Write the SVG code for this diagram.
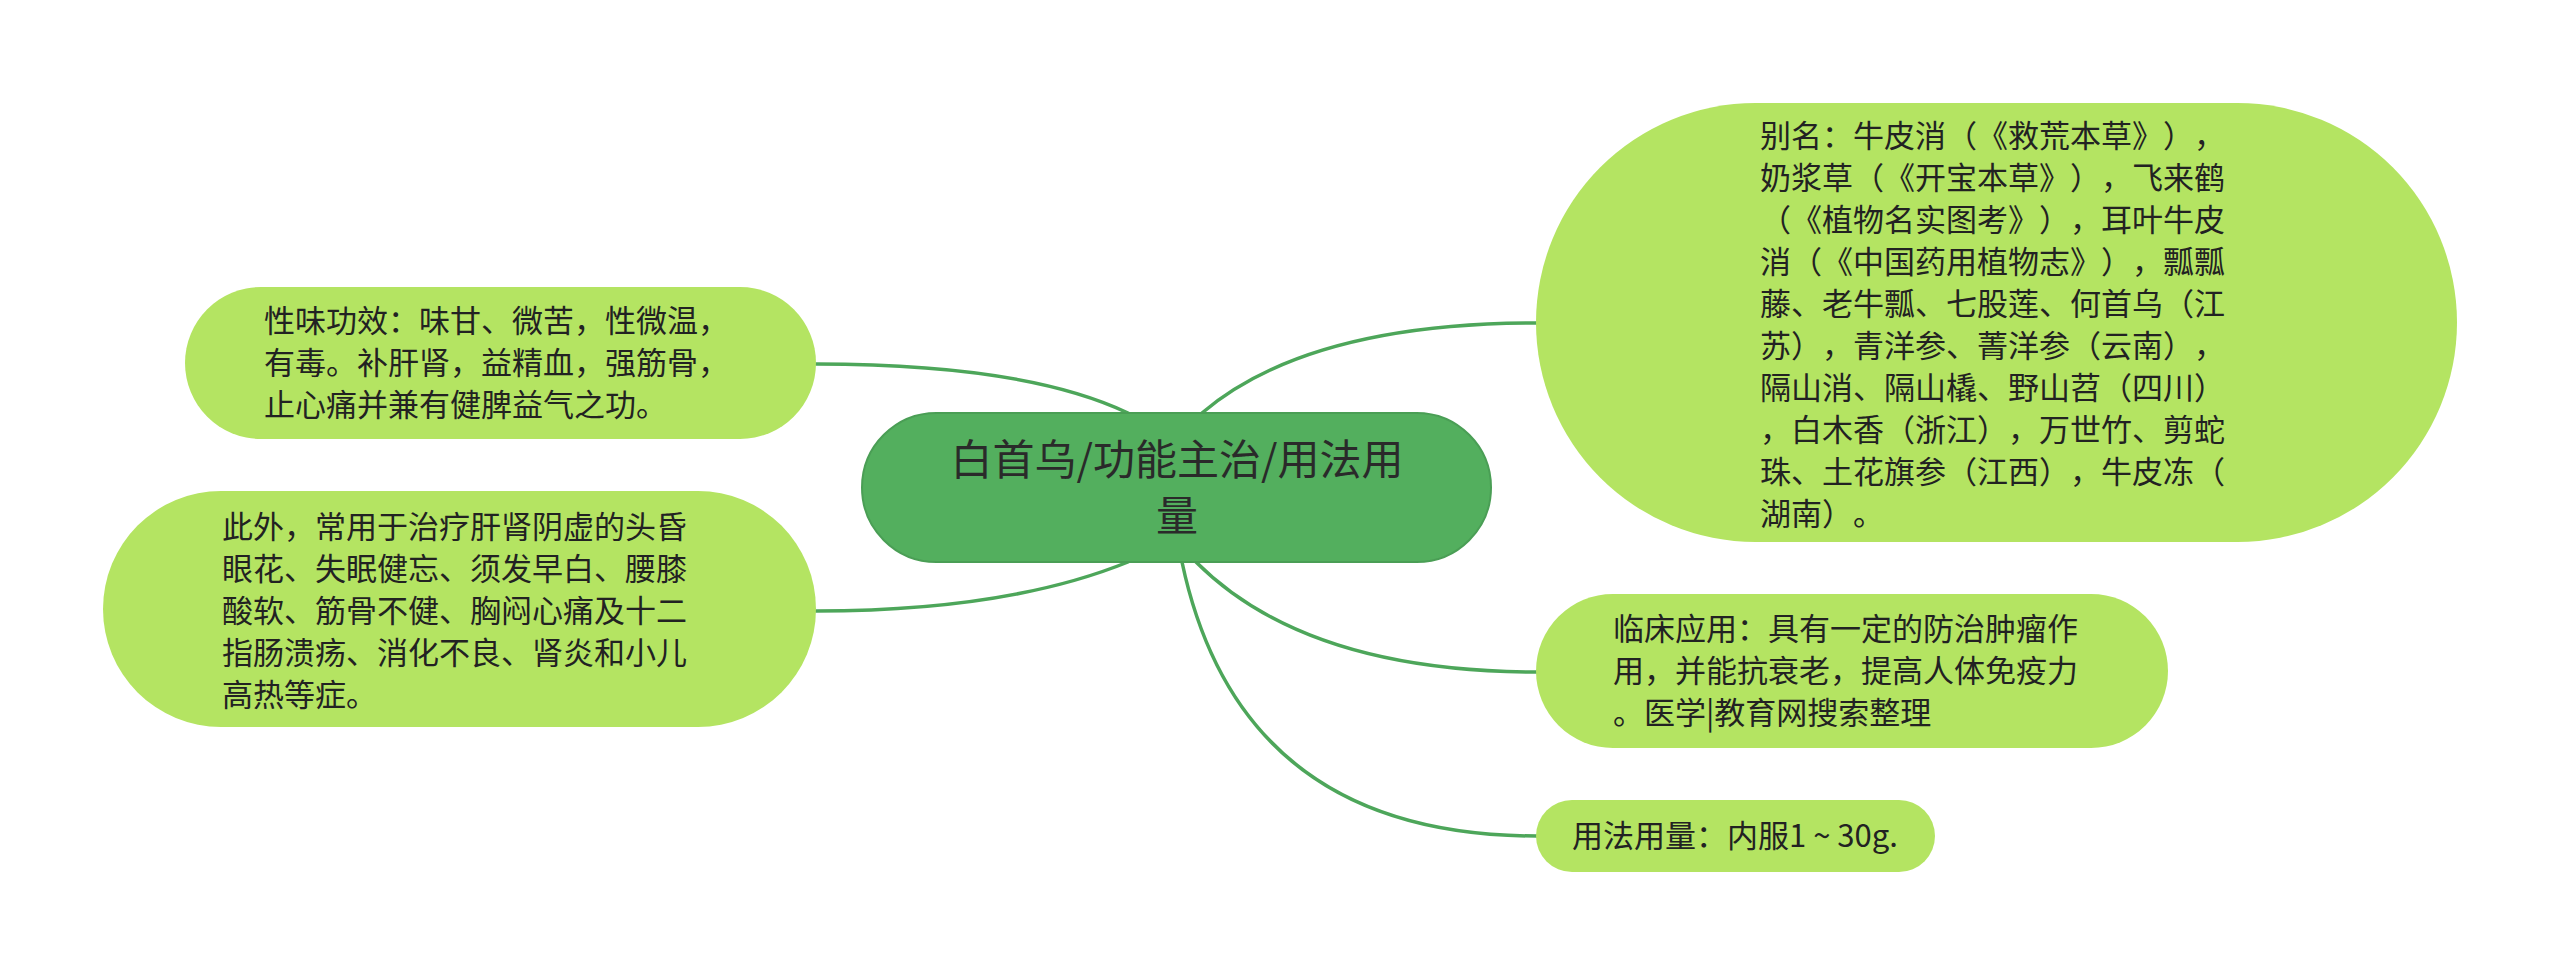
<svg xmlns="http://www.w3.org/2000/svg" width="2560" height="975" viewBox="0 0 2560 975">
<style>
  .bg { fill: #ffffff; }
  .root { fill: #53AF5E; stroke: #4A9E55; stroke-width: 2; }
  .child { fill: #B4E462; }
  .link { fill: none; stroke: #4DA65A; stroke-width: 3.5; stroke-linecap: round; }
  .t { font-family: "Noto Sans CJK SC", "Noto Sans", sans-serif; fill: #222222; text-spacing-trim: space-all; }
  .rt { font-size: 42px; text-anchor: middle; fill: #2a2a2a; }
  .ct { font-size: 31px; }
</style>
<rect class="bg" x="0" y="0" width="2560" height="975"/>
<g id="connectors">
  <path class="link" d="M1202,413 Q1308,323 1537,323"/>
  <path class="link" d="M1128,413 Q1025,364 816,364"/>
  <path class="link" d="M1128,562 Q1007,611 816,611"/>
  <path class="link" d="M1196,562 Q1306,672 1537,672"/>
  <path class="link" d="M1182,562 Q1240,836 1537,836"/>
</g>
<g id="node-root">
  <rect class="root" x="862" y="413" width="629" height="149" rx="74.5" ry="74.5"/>
  <text class="t rt" x="1177" y="475">白首乌/功能主治/用法用</text>
  <text class="t rt" x="1177" y="531">量</text>
</g>
<g id="node-alias">
  <rect class="child" x="1536" y="103" width="921" height="439" rx="219.5" ry="219.5"/>
  <text class="t ct">
    <tspan x="1760" y="147">别名：牛皮消（《救荒本草》），</tspan>
    <tspan x="1760" y="189">奶浆草（《开宝本草》），飞来鹤</tspan>
    <tspan x="1760" y="231">（《植物名实图考》），耳叶牛皮</tspan>
    <tspan x="1760" y="273">消（《中国药用植物志》），瓢瓢</tspan>
    <tspan x="1760" y="315">藤、老牛瓢、七股莲、何首乌（江</tspan>
    <tspan x="1760" y="357">苏），青洋参、菁洋参（云南），</tspan>
    <tspan x="1760" y="399">隔山消、隔山橇、野山苕（四川）</tspan>
    <tspan x="1760" y="441">，白木香（浙江），万世竹、剪蛇</tspan>
    <tspan x="1760" y="483">珠、土花旗参（江西），牛皮冻（</tspan>
    <tspan x="1760" y="525">湖南）。</tspan>
  </text>
</g>
<g id="node-nature">
  <rect class="child" x="185" y="287" width="631" height="152" rx="76" ry="76"/>
  <text class="t ct">
    <tspan x="264" y="332">性味功效：味甘、微苦，性微温，</tspan>
    <tspan x="264" y="374">有毒。补肝肾，益精血，强筋骨，</tspan>
    <tspan x="264" y="416">止心痛并兼有健脾益气之功。</tspan>
  </text>
</g>
<g id="node-usage">
  <rect class="child" x="103" y="491" width="713" height="236" rx="118" ry="118"/>
  <text class="t ct">
    <tspan x="222" y="538">此外，常用于治疗肝肾阴虚的头昏</tspan>
    <tspan x="222" y="580">眼花、失眠健忘、须发早白、腰膝</tspan>
    <tspan x="222" y="622">酸软、筋骨不健、胸闷心痛及十二</tspan>
    <tspan x="222" y="664">指肠溃疡、消化不良、肾炎和小儿</tspan>
    <tspan x="222" y="706">高热等症。</tspan>
  </text>
</g>
<g id="node-clinical">
  <rect class="child" x="1536" y="594" width="632" height="154" rx="77" ry="77"/>
  <text class="t ct">
    <tspan x="1613" y="640">临床应用：具有一定的防治肿瘤作</tspan>
    <tspan x="1613" y="682">用，并能抗衰老，提高人体免疫力</tspan>
    <tspan x="1613" y="724">。医学|教育网搜索整理</tspan>
  </text>
</g>
<g id="node-dosage">
  <rect class="child" x="1536" y="800" width="399" height="72" rx="36" ry="36"/>
  <text class="t ct" x="1572" y="847">用法用量：内服1 ~ 30g.</text>
</g>
</svg>
